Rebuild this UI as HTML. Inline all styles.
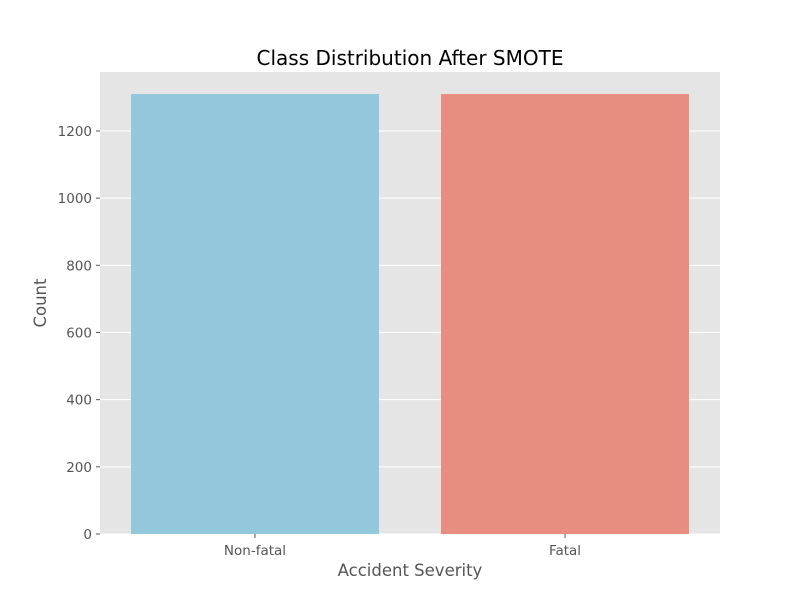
<!DOCTYPE html>
<html><head><meta charset="utf-8"><style>
body{margin:0;background:#fff;}
svg{display:block;font-family:"DejaVu Sans","Liberation Sans",sans-serif;}
</style></head><body>
<svg id="chart" width="800" height="600">
<rect width="800" height="600" fill="#fff"/>
<rect x="100" y="72" width="620" height="462" fill="#e5e5e5"/>
<g id="grid"></g>
<g id="bars"></g>
<g id="axes"></g>
<text x="410" y="65" text-anchor="middle" font-size="20" fill="#000">Class Distribution After SMOTE</text>
<text x="410" y="576" text-anchor="middle" font-size="16.5" fill="#555">Accident Severity</text>
<text x="46" y="303" text-anchor="middle" font-size="16.5" fill="#555" transform="rotate(-90 46 303)">Count</text>
</svg>
<script>
const categories = ["Non-fatal", "Fatal"];
const counts = [1310, 1310];
const barColors = ["#93c7dc", "#e88e81"];
const yTicks = [0, 200, 400, 600, 800, 1000, 1200];
const NS = "http://www.w3.org/2000/svg";
const L=100, R=720, T=72, B=534, yMax=1375.6;
function y(v){return B-(v/yMax)*(B-T);}
function x(i){return L+(i+0.5)*(R-L)/categories.length;}
const bw=0.8*(R-L)/categories.length;
function mk(tag,attrs,parent){const e=document.createElementNS(NS,tag);for(const k in attrs)e.setAttribute(k,attrs[k]);document.getElementById(parent).appendChild(e);return e;}
yTicks.forEach(t=>{
  const g=mk("line",{x1:L,x2:R,y1:y(t),y2:y(t),stroke:"#fff","stroke-width":1},"grid");
  
  
  const tk=mk("line",{x1:L-4,x2:L,y1:y(t),y2:y(t),stroke:"#555"},"axes");
  
  
  const lb=mk("text",{x:L-8,y:y(t)+5,"text-anchor":"end","font-size":"13.5",fill:"#555"},"axes");
  lb.textContent=t;
  
  
});
categories.forEach((c,i)=>{
  const r=mk("rect",{x:x(i)-bw/2,y:y(counts[i]),width:bw,height:B-y(counts[i]),fill:barColors[i]},"bars");
  
  
  const tk=mk("line",{x1:x(i),x2:x(i),y1:B,y2:B+4,stroke:"#555"},"axes");
  
  
  const lb=mk("text",{x:x(i),y:B+21,"text-anchor":"middle","font-size":"13.5",fill:"#555"},"axes");
  lb.textContent=c;
  
  
});
</script>
</body></html>
